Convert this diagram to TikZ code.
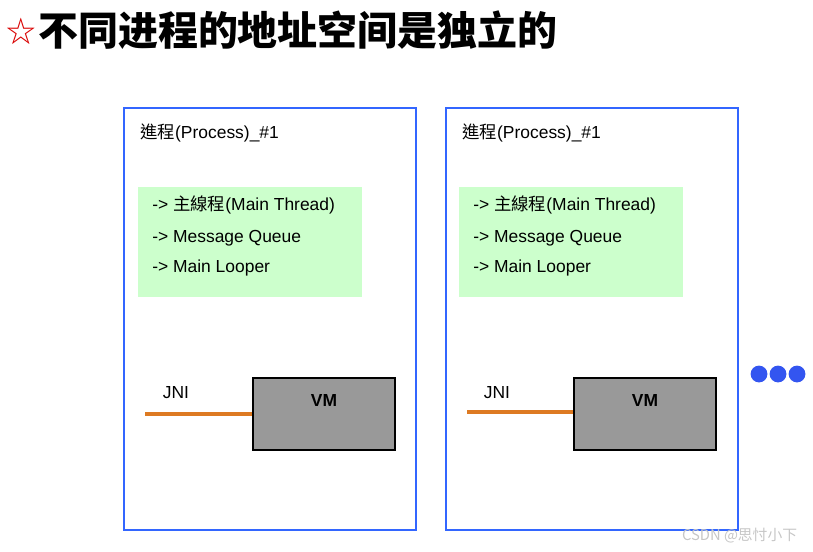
\documentclass[tikz,border=0pt]{standalone}
\usepackage{fontspec}
\setmainfont{Liberation Sans}
\newfontfamily\tcfont{Noto Sans CJK TC}
\newfontfamily\scfont{Noto Sans CJK SC}
\usepackage{tikz}
\usetikzlibrary{positioning}

\definecolor{procblue}{HTML}{3366FF}
\definecolor{threadgreen}{HTML}{CCFFCC}
\definecolor{vmgray}{HTML}{999999}
\definecolor{jniorange}{HTML}{DD7A22}
\definecolor{moreblue}{HTML}{3355F0}

\begin{document}
\begin{tikzpicture}[
  x=0.025cm, y=-0.025cm,
  font=\fontsize{12.4}{14}\selectfont,
  proc/.style={draw=procblue,line width=2pt,minimum width=7.3cm,minimum height=10.55cm,inner sep=0pt},
  threads/.style={fill=threadgreen,minimum width=5.6cm,minimum height=2.75cm,inner sep=0pt},
  listitem/.style={anchor=west,inner sep=0pt,text height=0.72em,text depth=0.2em},
  vmbox/.style={draw,fill=vmgray,line width=1.4pt,minimum width=3.55cm,minimum height=1.8cm,inner sep=0pt},
  jni/.style={draw=jniorange,line width=2.3pt},
  moredot/.style={circle,fill=moreblue,minimum size=0.42cm,inner sep=0pt}
]
\useasboundingbox (0,0) rectangle (813,551);

% title
\node[text=red!85!black,font=\scfont\fontsize{21}{24}\selectfont,inner sep=0pt] (star) at (21,31) {☆};
\node[anchor=west,font=\scfont\bfseries\fontsize{28.4}{32}\selectfont,inner sep=0pt] (title) at (38,30) {不同进程的地址空间是独立的};

% process #1
\node[proc] (proc1) at (270,319) {};
\node[listitem] (name1) at (140,135) {{\tcfont 進程}(Process)\_\#1};
\node[threads] (threads1) at (250,242) {};
\node[listitem] (main1) at (152,207) {-> {\tcfont 主線程}(Main Thread)};
\node[listitem] (queue1) at (152,239) {-> Message Queue};
\node[listitem] (looper1) at (152,269) {-> Main Looper};
\node[vmbox] (vm1) at (324,414) {};
\node[font=\bfseries\fontsize{12.4}{14}\selectfont] (vmlabel1) at (324,400) {VM};
\coordinate (jnistart1) at (145,414);
\node (jnilabel1) at (176,393) {JNI};
\draw[jni] (jnistart1) -- (vm1);

% process #2
\node[proc] (proc2) at (592,319) {};
\node[listitem] (name2) at (462,135) {{\tcfont 進程}(Process)\_\#1};
\node[threads] (threads2) at (571,242) {};
\node[listitem] (main2) at (473,207) {-> {\tcfont 主線程}(Main Thread)};
\node[listitem] (queue2) at (473,239) {-> Message Queue};
\node[listitem] (looper2) at (473,269) {-> Main Looper};
\node[vmbox] (vm2) at (645,414) {};
\node[font=\bfseries\fontsize{12.4}{14}\selectfont] (vmlabel2) at (645,400) {VM};
\coordinate (jnistart2) at (467,412);
\node (jnilabel2) at (497,393) {JNI};
\draw[jni] (jnistart2) -- (vm2.west |- jnistart2);

% more processes
\node[moredot] (more1) at (759,374) {};
\node[moredot] (more2) at (778,374) {};
\node[moredot] (more3) at (797,374) {};

\node[anchor=east,text=gray!45,font=\scfont\fontsize{10.5}{12}\selectfont] (mark) at (802,536) {CSDN @思忖小下};
\end{tikzpicture}
\end{document}
